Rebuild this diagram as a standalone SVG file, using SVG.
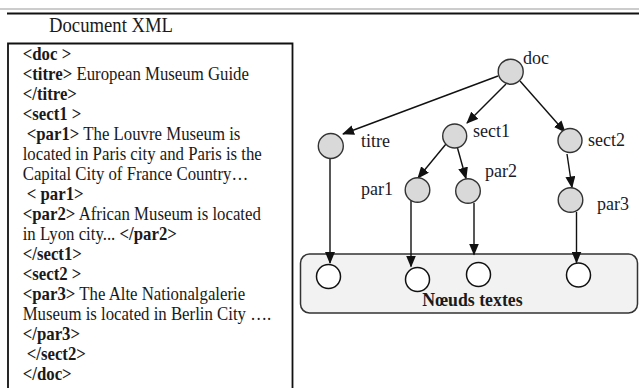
<svg xmlns="http://www.w3.org/2000/svg" width="639" height="388" viewBox="0 0 639 388">
<defs>
<marker id="ah" markerUnits="userSpaceOnUse" markerWidth="12" markerHeight="10" refX="11" refY="5" orient="auto">
<path d="M0,0 L12,5 L0,10 z" fill="#111"/>
</marker>
<style>
.doc{font-family:"Liberation Serif","Times New Roman",serif;font-size:16.8px;fill:#1a1a1a}
.b{font-weight:bold}
.lbl{font-family:"Liberation Serif","Times New Roman",serif;font-size:18px;fill:#1a1a2a}
.en{fill:#d9d9d9;stroke:#333;stroke-width:1.4}
.tn{fill:#fff;stroke:#111;stroke-width:1.5}
.cn{stroke:#111;stroke-width:1.4;fill:none;marker-end:url(#ah)}
</style>
</defs>
<rect width="639" height="388" fill="#fff"/>
<line x1="0" y1="9" x2="639" y2="9" stroke="#9a9a9a" stroke-width="1.2"/>
<line x1="7" y1="13.5" x2="639" y2="13.5" stroke="#111" stroke-width="2"/>
<text transform="translate(49,32) scale(1,1.1)" font-family="Liberation Serif, Times New Roman, serif" font-size="18.7" fill="#1a1a1a">Document XML</text>

<g id="xml-box">
<path d="M8,388 V43.5 H292.5 V388" fill="none" stroke="#111" stroke-width="1.8"/>
<text class="doc" transform="translate(22.7,59.5) scale(1,1.1)"><tspan class="b">&lt;doc &gt;</tspan></text>
<text class="doc" transform="translate(22.7,79.5) scale(1,1.1)"><tspan class="b">&lt;titre&gt;</tspan> European Museum Guide</text>
<text class="doc" transform="translate(22.7,99.5) scale(1,1.1)"><tspan class="b">&lt;/titre&gt;</tspan></text>
<text class="doc" transform="translate(22.7,119.5) scale(1,1.1)"><tspan class="b">&lt;sect1 &gt;</tspan></text>
<text class="doc" transform="translate(26.7,139.5) scale(1,1.1)"><tspan class="b">&lt;par1&gt;</tspan> The Louvre Museum is</text>
<text class="doc" transform="translate(22.7,159.5) scale(1,1.1)">located in Paris city and Paris is the</text>
<text class="doc" transform="translate(22.7,179.5) scale(1,1.1)">Capital City of France Country…</text>
<text class="doc" transform="translate(26.7,199.5) scale(1,1.1)"><tspan class="b">&lt; par1&gt;</tspan></text>
<text class="doc" transform="translate(22.7,219.5) scale(1,1.1)"><tspan class="b">&lt;par2&gt;</tspan> African Museum is located</text>
<text class="doc" transform="translate(22.7,239.5) scale(1,1.1)">in Lyon city... <tspan class="b">&lt;/par2&gt;</tspan></text>
<text class="doc" transform="translate(22.7,259.5) scale(1,1.1)"><tspan class="b">&lt;/sect1&gt;</tspan></text>
<text class="doc" transform="translate(22.7,279.5) scale(1,1.1)"><tspan class="b">&lt;sect2 &gt;</tspan></text>
<text class="doc" transform="translate(22.7,299.5) scale(1,1.1)"><tspan class="b">&lt;par3&gt;</tspan> The Alte Nationalgalerie</text>
<text class="doc" transform="translate(22.7,319.5) scale(1,1.1)">Museum is located in Berlin City ….</text>
<text class="doc" transform="translate(22.7,339.5) scale(1,1.1)"><tspan class="b">&lt;/par3&gt;</tspan></text>
<text class="doc" transform="translate(26.7,359.5) scale(1,1.1)"><tspan class="b">&lt;/sect2&gt;</tspan></text>
<text class="doc" transform="translate(22.7,379.5) scale(1,1.1)"><tspan class="b">&lt;/doc&gt;</tspan></text>
</g>

<g id="text-nodes">
<rect x="300.5" y="254" width="337" height="59" rx="9" fill="#f2f2f2" stroke="#333" stroke-width="1.5"/>
<circle class="tn" cx="328.5" cy="276.5" r="12"/>
<circle class="tn" cx="417.5" cy="279.5" r="12"/>
<circle class="tn" cx="478.5" cy="274.5" r="12"/>
<circle class="tn" cx="578.5" cy="275" r="12"/>
<text transform="translate(472.5,306) scale(1,1.08)" text-anchor="middle" font-family="Liberation Serif, Times New Roman, serif" font-size="17.8" font-weight="bold" fill="#1a1a1a">Nœuds textes</text>
</g>

<g id="connectors">
<line class="cn" x1="498" y1="76" x2="343" y2="134"/>
<line class="cn" x1="506" y1="84" x2="467" y2="123"/>
<line class="cn" x1="520" y1="81" x2="565" y2="132"/>
<line class="cn" x1="330" y1="158.5" x2="330" y2="263"/>
<line class="cn" x1="446" y1="144" x2="418" y2="178"/>
<line class="cn" x1="457.5" y1="148" x2="466" y2="178.5"/>
<line class="cn" x1="567" y1="154" x2="572" y2="187.5"/>
<line class="cn" x1="411" y1="201" x2="411" y2="266.5"/>
<line class="cn" x1="474" y1="203" x2="474" y2="254.5"/>
<line class="cn" x1="576.5" y1="212" x2="576.5" y2="262.5"/>
</g>

<g id="doc"><circle class="en" cx="510.7" cy="71.7" r="12.5"/><text class="lbl" x="523" y="63.5">doc</text></g>
<g id="titre"><circle class="en" cx="330.8" cy="146" r="12.5"/><text class="lbl" x="361" y="146.5">titre</text></g>
<g id="sect1"><circle class="en" cx="454.7" cy="136" r="12"/><text class="lbl" x="473" y="136.5">sect1</text></g>
<g id="sect2"><circle class="en" cx="570" cy="140.5" r="12"/><text class="lbl" x="588" y="146">sect2</text></g>
<g id="par1"><circle class="en" cx="417.5" cy="190" r="12.3"/><text class="lbl" x="361" y="195">par1</text></g>
<g id="par2"><circle class="en" cx="468" cy="191" r="12.3"/><text class="lbl" x="485" y="176.5">par2</text></g>
<g id="par3"><circle class="en" cx="570.5" cy="200" r="12.3"/><text class="lbl" x="597" y="209.5">par3</text></g>
</svg>
